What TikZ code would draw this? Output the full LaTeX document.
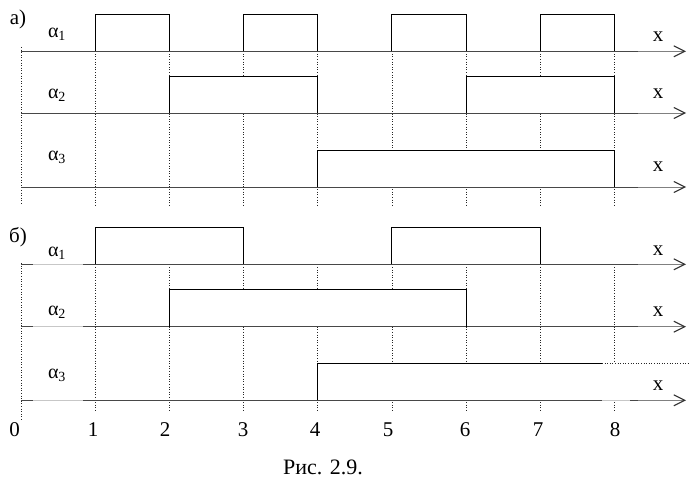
\documentclass[tikz,border=0pt]{standalone}
\usepackage{fontspec}
\setmainfont{Liberation Serif}
\usetikzlibrary{arrows.meta}
\newcommand\mypulse[4]{%
  \fill[white] ({21.3+74.1*#1},#3) rectangle ({21.3+74.1*#2},#4);}
\newcommand\mypulseline[4]{%
  \draw[pulseline] ({21.3+74.1*#1},#3) -- ({21.3+74.1*#1},#4) -- ({21.3+74.1*#2},#4) -- ({21.3+74.1*#2},#3);}
\begin{document}
\begin{tikzpicture}[x=1pt,y=-1pt,
  axisline/.style={draw=black!72,line width=0.9pt},
  gapline/.style={draw=black!22,line width=0.9pt},
  pulseline/.style={draw=black,line width=0.8pt},
  gridline/.style={draw=black!85,dotted,line width=0.6pt},
  tipline/.style={draw=black!50,line width=0.7pt,-{Straight Barb[length=11pt,width=11pt,line width=1.1pt,color=black!80]}},
  lbl/.style={inner sep=0pt,font=\fontsize{21}{24}\selectfont},
  sublbl/.style={inner sep=0pt,font=\fontsize{20}{24}\selectfont}]
\useasboundingbox (0,0) rectangle (695,481);
% grid (a)
\draw[gridline] (21.3,47) -- (21.3,205);
\foreach \i in {1,...,8} \draw[gridline] ({21.3+74.1*\i},51.3) -- ({21.3+74.1*\i},205);
% grid (b)
\draw[gridline] (21.3,263) -- (21.3,421);
\foreach \i in {1,...,8} \draw[gridline] ({21.3+74.1*\i},264.3) -- ({21.3+74.1*\i},412);
% pulse fills (a)
\mypulse{1}{2}{51.3}{14.3}\mypulse{3}{4}{51.3}{14.3}\mypulse{5}{6}{51.3}{14.3}\mypulse{7}{8}{51.3}{14.3}
\mypulse{2}{4}{113}{76}\mypulse{6}{8}{113}{76}
\mypulse{4}{8}{187}{150}
% pulse fills (b)
\mypulse{1}{3}{264.3}{227.5}\mypulse{5}{7}{264.3}{227.5}
\mypulse{2}{6}{326.7}{289.7}
\fill[white] (317.7,400.3) rectangle (690,363.3);
% baselines (a)
\foreach \b in {51.3,113,187}{
  \draw[axisline] (21.3,\b) -- (638,\b);
  \draw[tipline] (638,\b) -- (686,\b);}
% baselines (b)
\foreach \b in {264.3,326.7}{
  \draw[axisline] (21.3,\b) -- (33,\b);
  \draw[gapline] (33,\b) -- (83,\b);
  \draw[axisline] (83,\b) -- (638,\b);
  \draw[tipline] (638,\b) -- (686,\b);}
\draw[axisline] (21.3,400.3) -- (33,400.3);
\draw[gapline] (33,400.3) -- (83,400.3);
\draw[axisline] (83,400.3) -- (602,400.3);
\draw[gapline] (602,400.3) -- (630,400.3);
\draw[axisline] (630,400.3) -- (638,400.3);
\draw[tipline] (638,400.3) -- (686,400.3);
% pulse outlines (a)
\mypulseline{1}{2}{51.3}{14.3}\mypulseline{3}{4}{51.3}{14.3}\mypulseline{5}{6}{51.3}{14.3}\mypulseline{7}{8}{51.3}{14.3}
\mypulseline{2}{4}{113}{76}\mypulseline{6}{8}{113}{76}
\mypulseline{4}{8}{187}{150}
% pulse outlines (b)
\mypulseline{1}{3}{264.3}{227.5}\mypulseline{5}{7}{264.3}{227.5}
\mypulseline{2}{6}{326.7}{289.7}
\draw[pulseline] (317.7,400.3) -- (317.7,363.3) -- (602,363.3);
\draw[gridline] (602,363.3) -- (689,363.3);
% labels
\node[lbl] (pa) at (18,19) {а)};
\node[lbl] (pb) at (18,237) {б)};
\node[sublbl] (a1) at (57,34) {α\textsubscript{1}};
\node[sublbl] (a2) at (57,95) {α\textsubscript{2}};
\node[sublbl] (a3) at (57,157) {α\textsubscript{3}};
\node[sublbl] (b1) at (57,253) {α\textsubscript{1}};
\node[sublbl] (b2) at (57,312) {α\textsubscript{2}};
\node[sublbl] (b3) at (57,375) {α\textsubscript{3}};
\node[lbl] (xa1) at (658,37) {x};
\node[lbl] (xa2) at (658,94) {x};
\node[lbl] (xa3) at (658,167) {x};
\node[lbl] (xb1) at (658,251) {x};
\node[lbl] (xb2) at (658,312) {x};
\node[lbl] (xb3) at (658,386) {x};
\node[lbl] (n0) at (14.5,430) {0};
\node[lbl] (n1) at (93,430) {1};
\node[lbl] (n2) at (165,430) {2};
\node[lbl] (n3) at (243,430) {3};
\node[lbl] (n4) at (315,430) {4};
\node[lbl] (n5) at (388,430) {5};
\node[lbl] (n6) at (465,430) {6};
\node[lbl] (n7) at (538,430) {7};
\node[lbl] (n8) at (615,430) {8};
\node[lbl,font=\fontsize{22}{24}\selectfont] (cap) at (323,467) {Рис. 2.9.};
\end{tikzpicture}
\end{document}
